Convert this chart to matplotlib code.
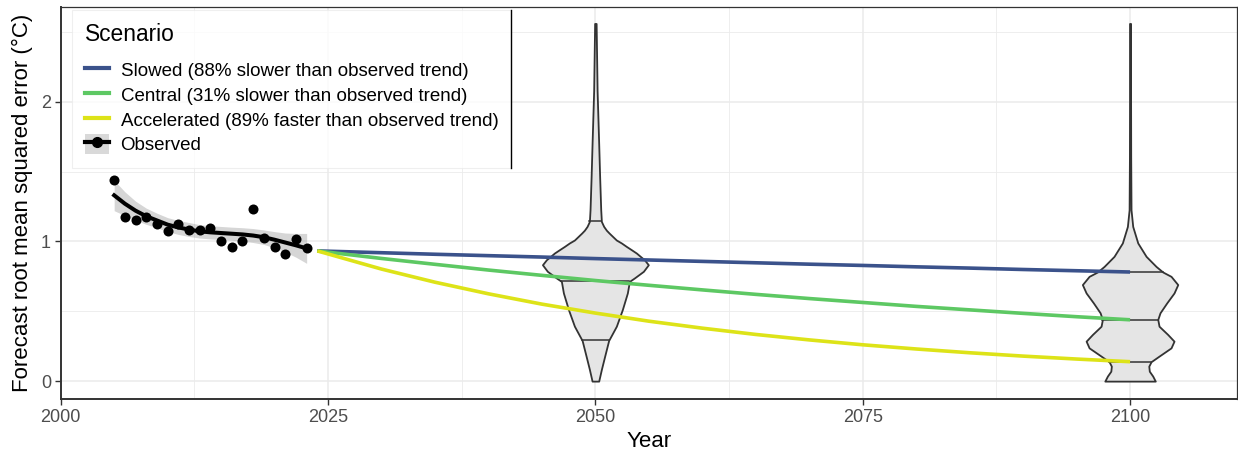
import numpy as np
import matplotlib
matplotlib.use("Agg")
import matplotlib.pyplot as plt
from matplotlib.lines import Line2D
from matplotlib.patches import Patch

plt.rcParams['font.family'] = ['Liberation Sans', 'DejaVu Sans']

## Observed RMSE per year
obs_years = np.arange(2005, 2024)
obs_rmse = [1.441, 1.174, 1.155, 1.174, 1.126, 1.071, 1.124, 1.084, 1.079, 1.096,
            1.003, 0.960, 1.005, 1.234, 1.024, 0.962, 0.910, 1.017, 0.950]

## Smoothed trend + confidence band
smooth_fit = [1.330, 1.270, 1.220, 1.180, 1.150, 1.120, 1.100, 1.085, 1.072, 1.065,
              1.060, 1.055, 1.050, 1.042, 1.030, 1.012, 0.992, 0.972, 0.950]
smooth_lo = [1.220, 1.185, 1.152, 1.122, 1.098, 1.070, 1.050, 1.035, 1.024, 1.018,
             1.013, 1.008, 1.002, 0.992, 0.978, 0.954, 0.924, 0.887, 0.843]
smooth_hi = [1.437, 1.355, 1.288, 1.238, 1.202, 1.170, 1.150, 1.135, 1.120, 1.112,
             1.107, 1.102, 1.098, 1.092, 1.082, 1.070, 1.060, 1.057, 1.057]

## Scenario projections
scen_years = [2024, 2030, 2035, 2040, 2045, 2050, 2055, 2060, 2065, 2070, 2075,
              2080, 2085, 2090, 2095, 2100]
slowed = [0.932, 0.919, 0.908, 0.898, 0.888, 0.877, 0.867, 0.857, 0.847, 0.837,
          0.828, 0.818, 0.809, 0.799, 0.790, 0.781]
central = [0.932, 0.878, 0.836, 0.795, 0.757, 0.720, 0.686, 0.653, 0.621, 0.591,
           0.563, 0.535, 0.510, 0.485, 0.461, 0.439]
accelerated = [0.932, 0.802, 0.708, 0.625, 0.551, 0.487, 0.429, 0.379, 0.334, 0.295,
               0.260, 0.230, 0.203, 0.179, 0.158, 0.139]
scen_labels = ["Slowed (88% slower than observed trend)",
               "Central (31% slower than observed trend)",
               "Accelerated (89% faster than observed trend)"]
scen_colors = ["#3B528B", "#5DC863", "#DDE318"]

## Violin profiles (value, half width in years)
v2050_y = [0.0, 0.084, 0.179, 0.291, 0.393, 0.512, 0.631, 0.714, 0.738, 0.786, 0.833,
           0.869, 0.893, 0.917, 0.941, 0.964, 0.989, 1.01, 1.06, 1.08, 1.107, 1.143,
           1.226, 1.46, 1.70, 2.08, 2.56]
v2050_w = [0.31, 0.56, 0.87, 1.24, 1.96, 2.52, 2.99, 3.18, 3.64, 4.49, 4.95,
           4.58, 4.20, 3.83, 3.36, 2.90, 2.43, 1.96, 1.28, 1.03, 0.78, 0.56,
           0.50, 0.40, 0.31, 0.16, 0.07]
v2050_q = [0.291, 0.714, 1.143]

v2100_y = [0.0, 0.036, 0.071, 0.107, 0.139, 0.179, 0.238, 0.286, 0.334, 0.393, 0.441,
           0.489, 0.56, 0.631, 0.691, 0.75, 0.781, 0.821, 0.893, 0.989, 1.107, 1.226,
           1.6, 2.0, 2.56]
v2100_w = [2.36, 2.12, 1.80, 1.75, 1.96, 2.71, 3.83, 4.11, 3.52, 2.71, 2.59,
           2.80, 3.43, 4.11, 4.46, 3.83, 3.06, 2.43, 1.50, 0.72, 0.25, 0.09,
           0.06, 0.05, 0.05]
v2100_q = [0.139, 0.441, 0.781]

violins = [(2050, v2050_y, v2050_w, v2050_q), (2100, v2100_y, v2100_w, v2100_q)]

fig = plt.figure(figsize=(12.38, 4.55), dpi=100)
ax = fig.add_axes([60.7 / 1238, 56 / 455, 1176.3 / 1238, 392.3 / 455])

## Violins
for x0, vy, vw, vq in violins:
    vy = np.array(vy); vw = np.array(vw)
    ax.fill_betweenx(vy, x0 - vw, x0 + vw, facecolor="#E5E5E5", edgecolor="#333333",
                     lw=1.3, zorder=2)
    for q in vq:
        hw = np.interp(q, vy, vw)
        ax.plot([x0 - hw, x0 + hw], [q, q], color="#333333", lw=1.1, zorder=2)

## Observed
ax.fill_between(obs_years, smooth_lo, smooth_hi, color="#999999", alpha=0.4, lw=0, zorder=3)
ax.scatter(obs_years, obs_rmse, s=52, color="black", zorder=4, lw=0)
ax.plot(obs_years, smooth_fit, color="black", lw=2.9, zorder=5)

## Scenarios
for vals, c in zip([slowed, central, accelerated], scen_colors):
    ax.plot(scen_years, vals, color=c, lw=2.6, zorder=6, solid_capstyle="butt")

ax.set_xlim(2000, 2110)
ax.set_ylim(-0.128, 2.68)
ax.set_xticks([2000, 2025, 2050, 2075, 2100])
ax.set_yticks([0, 1, 2])
ax.set_xticks([2012.5, 2037.5, 2062.5, 2087.5], minor=True)
ax.set_yticks([0.5, 1.5, 2.5], minor=True)
ax.grid(which="major", color="#EBEBEB", lw=1.1, zorder=0)
ax.grid(which="minor", color="#EBEBEB", lw=0.6, zorder=0)
ax.set_axisbelow(True)
ax.tick_params(which="minor", length=0)
ax.tick_params(which="major", length=4, width=1.0, color="#333333",
               labelsize=13, labelcolor="#4D4D4D", pad=3)
for s in ["top", "right"]:
    ax.spines[s].set_color("#333333")
    ax.spines[s].set_linewidth(0.9)
for s in ["left", "bottom"]:
    ax.spines[s].set_color("#333333")
    ax.spines[s].set_linewidth(1.4)

ax.set_xlabel("Year", fontsize=16, labelpad=4)
ax.set_ylabel("Forecast root mean squared error (°C)", fontsize=16, labelpad=6)

handles = [Line2D([], [], color=c, lw=3) for c in scen_colors]
handles.append((Patch(facecolor="#D9D9D9", edgecolor="none"),
                Line2D([], [], color="black", lw=3, marker="o", ms=7)))
labels = scen_labels + ["Observed"]
leg = ax.legend(handles, labels, title="Scenario", loc="upper left",
                bbox_to_anchor=(0.0094, 0.9916), borderaxespad=0, fontsize=13.5,
                title_fontsize=16.4, alignment="left", frameon=True, fancybox=False,
                handlelength=1.3, handleheight=1.25, labelspacing=0.24,
                handletextpad=0.6, borderpad=0.7)
leg._legend_box.sep = 10
leg.get_frame().set_edgecolor("#EBEBEB")
leg.get_frame().set_linewidth(0.8)
leg.set_zorder(10)

fig.canvas.draw()
bb = leg.get_frame().get_window_extent()
fig.add_artist(Line2D([bb.x1, bb.x1], [bb.y0, bb.y1], transform=None,
                      color="black", lw=1.0, zorder=11))

fig.savefig("out.png", dpi=100)
